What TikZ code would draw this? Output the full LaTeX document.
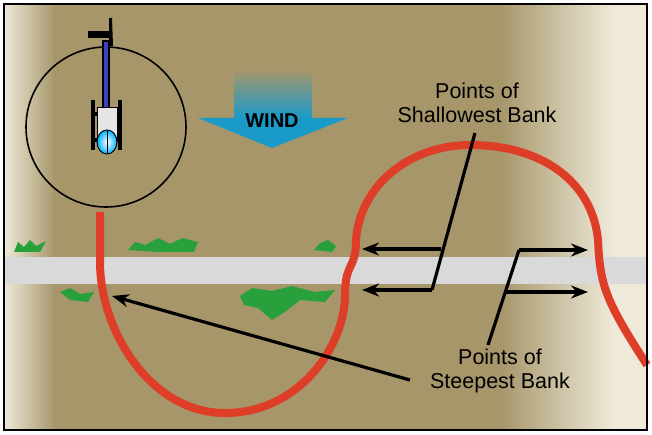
\documentclass[tikz,border=0pt]{standalone}
\usepackage{fontspec}
\setmainfont{Liberation Sans}
\usetikzlibrary{arrows.meta}
\begin{document}
\begin{tikzpicture}[x=1pt,y=-1pt,
 lbl/.style={align=center,font=\fontsize{21.5}{24}\selectfont,inner sep=0},
 ptr/.style={black,line width=3.2pt},
 arr/.style={ptr,-{Stealth[length=17pt,width=13pt]}},
 grass/.style={fill={rgb,255:red,40;green,160;blue,60},draw=none},
 red/.style={draw={rgb,255:red,222;green,62;blue,40},line width=8pt}]
\useasboundingbox (0,0) rectangle (652,435);
\definecolor{kh}{RGB}{166,150,106}
\definecolor{kl}{RGB}{238,233,216}
\fill[white] (0,0) rectangle (652,435);
\shade[left color=kl,right color=kh] (4,4) rectangle (55,430);
\fill[kh] (55,4) rectangle (500,430);
\shade[left color=kh,right color=kl] (500,4) rectangle (612,430);
\fill[kl] (612,4) rectangle (647,430);
\fill[gray!30] (4,257) rectangle (647,284);
% grass
\fill[grass] (14,252) -- (18,242) -- (24,247) -- (30,240) -- (36,246) -- (46,241) -- (40,252) -- cycle;
\fill[grass] (128,250) -- (135,242) -- (145,245) -- (158,238) -- (170,244) -- (182,238) -- (198,242) -- (194,252) -- (160,252) -- cycle;
\fill[grass] (314,250) -- (320,243) -- (328,240) -- (336,246) -- (332,252) -- cycle;
\fill[grass] (60,292) -- (70,288) -- (80,294) -- (94,292) -- (88,302) -- (70,300) -- cycle;
\fill[grass] (240,296) -- (252,288) -- (272,291) -- (292,286) -- (315,292) -- (335,290) -- (325,302) -- (300,300) -- (285,312) -- (272,320) -- (258,308) -- (244,305) -- cycle;
% red path
\draw[red] (100,212) -- (100,262) .. controls (100,330) and (150,413) .. (225,413) .. controls (300,413) and (345,345) .. (345,295) .. controls (345,262) and (356,270) .. (356,240) .. controls (360,185) and (410,145) .. (470,145) .. controls (540,145) and (592,180) .. (598,240) .. controls (600,285) and (605,300) .. (647,365);
% helicopter
\node[circle,draw,line width=1.6pt,minimum size=160pt,inner sep=0] (circ) at (106,127) {};
\fill[black] (88,31) rectangle (112,38);
\fill[black] (109,18) -- (112,18) -- (113,46) -- (109,46) -- cycle;
\fill[black] (102,40) rectangle (110,110);
\fill[blue!50!gray] (104,42) rectangle (108,108);
\fill[black] (91,100) rectangle (95,150);
\fill[black] (118,100) rectangle (122,150);
\fill[black] (92,112) rectangle (121,116);
\fill[black] (92,138) rectangle (121,142);
\fill[gray!20,draw=black,line width=1pt] (97,108) rectangle (117,138);
\shade[inner color=white,outer color=cyan!70!blue,draw=black,line width=1pt] (107,142) ellipse (10pt and 12pt);
\draw[black,line width=1pt] (107,131) -- (107,153);
% wind
\definecolor{wb}{RGB}{26,154,200}
\shade[top color=kh,bottom color=wb] (234,70) rectangle (312,118);
\fill[wb] (198,118) -- (348,118) -- (272,148) -- cycle;
\node[font=\bfseries\fontsize{20}{22}\selectfont] (wind) at (272,121) {WIND};
% labels
\node[lbl] (sh) at (477,103) {Points of\\Shallowest Bank};
\node[lbl] (st) at (500,371) {Points of\\Steepest Bank};
\coordinate (a1) at (475,133);
\coordinate (a2) at (441,249);
\coordinate (a3) at (432,290);
\draw[ptr] (a1) -- (a3);
\draw[arr] (a2) -- (362,249);
\draw[arr] (a3) -- (362,290);
\coordinate (b1) at (488,345);
\coordinate (b2) at (519,250);
\coordinate (b3) at (506,292);
\draw[ptr] (b1) -- (b2);
\draw[arr] (b2) -- (588,250);
\draw[arr] (b3) -- (588,292);
\draw[arr] (410,380) -- (112,296);
\draw[line width=2pt] (4,4) rectangle (647,430);
\end{tikzpicture}
\end{document}
